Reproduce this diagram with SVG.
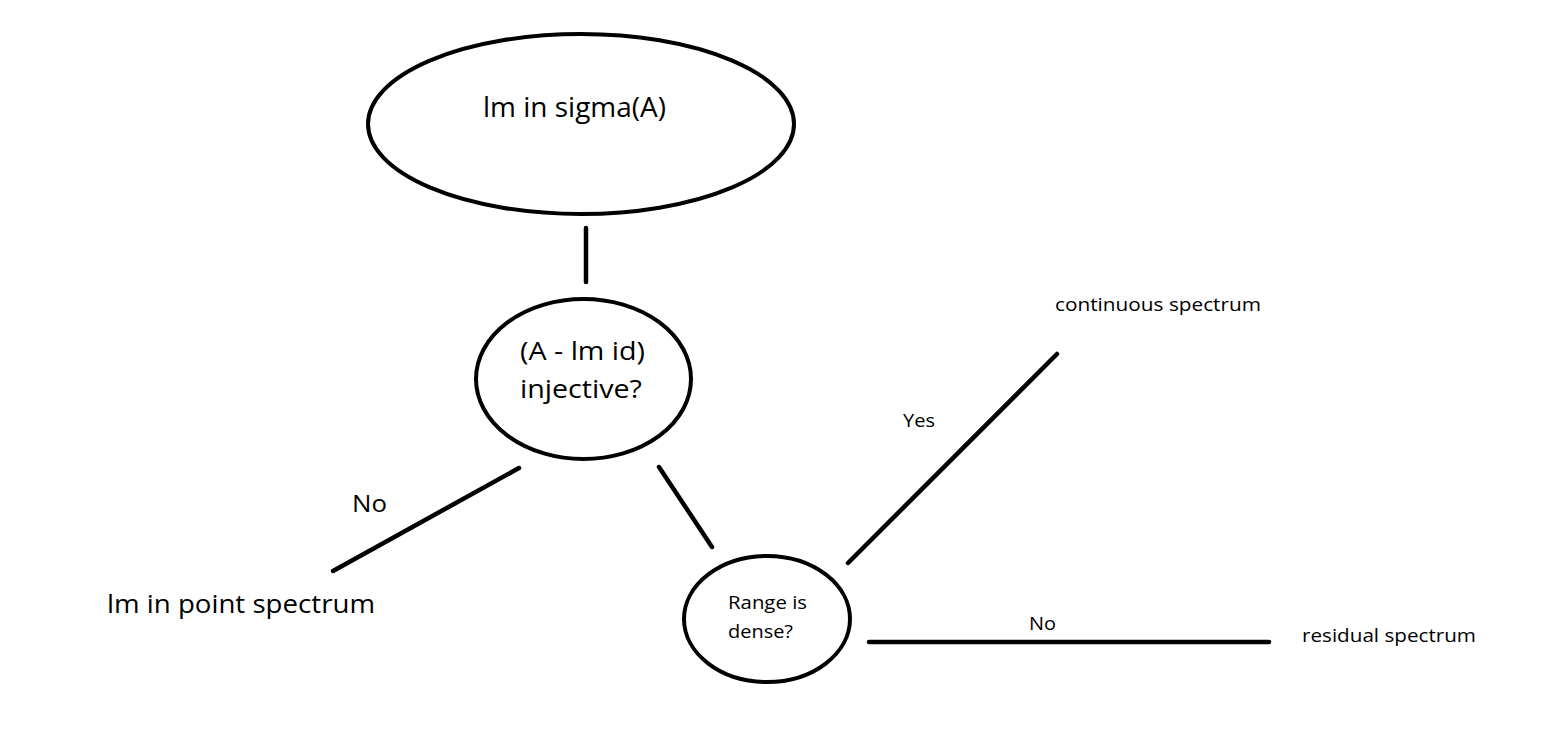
<svg xmlns="http://www.w3.org/2000/svg" width="1568" height="741" viewBox="0 0 1568 741">
<style>
.node{fill:#fff;stroke:#000;stroke-width:4}
.edge{stroke:#000;stroke-width:4.5;stroke-linecap:round;fill:none}
text{font-family:"Open Sans","Noto Sans","Liberation Sans",sans-serif;fill:#000}
</style>
<rect width="1568" height="741" fill="#fff"/>
<g id="connectors">
<line class="edge" x1="586" y1="228" x2="586" y2="282"/>
<line class="edge" x1="519" y1="468" x2="333" y2="571"/>
<line class="edge" x1="659" y1="467" x2="712" y2="547"/>
<line class="edge" x1="848" y1="563" x2="1057" y2="354"/>
<line class="edge" x1="869" y1="642" x2="1269" y2="642"/>
<text x="352" y="512" font-size="24" textLength="35" lengthAdjust="spacingAndGlyphs">No</text>
<text x="903" y="427" font-size="19" textLength="32" lengthAdjust="spacingAndGlyphs">Yes</text>
<text x="1029" y="630" font-size="19" textLength="27" lengthAdjust="spacingAndGlyphs">No</text>
</g>
<g id="n-sigma">
<ellipse class="node" cx="581" cy="124" rx="213" ry="90"/>
<text x="483" y="117" font-size="27" textLength="183" lengthAdjust="spacingAndGlyphs">lm in sigma(A)</text>
</g>
<g id="n-injective">
<ellipse class="node" cx="583.5" cy="379" rx="107.5" ry="80"/>
<text x="520" y="360" font-size="26" textLength="125" lengthAdjust="spacingAndGlyphs">(A - lm id)</text>
<text x="520" y="398" font-size="26" textLength="122" lengthAdjust="spacingAndGlyphs">injective?</text>
</g>
<g id="n-dense">
<ellipse class="node" cx="767" cy="619" rx="83" ry="63"/>
<text x="728" y="609" font-size="18" textLength="79" lengthAdjust="spacingAndGlyphs">Range is</text>
<text x="728" y="638" font-size="18" textLength="65" lengthAdjust="spacingAndGlyphs">dense?</text>
</g>
<g id="n-point">
<text x="107" y="613" font-size="26" textLength="268" lengthAdjust="spacingAndGlyphs">lm in point spectrum</text>
</g>
<g id="n-continuous">
<text x="1055" y="311" font-size="19" textLength="206" lengthAdjust="spacingAndGlyphs">continuous spectrum</text>
</g>
<g id="n-residual">
<text x="1302" y="642" font-size="19" textLength="174" lengthAdjust="spacingAndGlyphs">residual spectrum</text>
</g>
</svg>
